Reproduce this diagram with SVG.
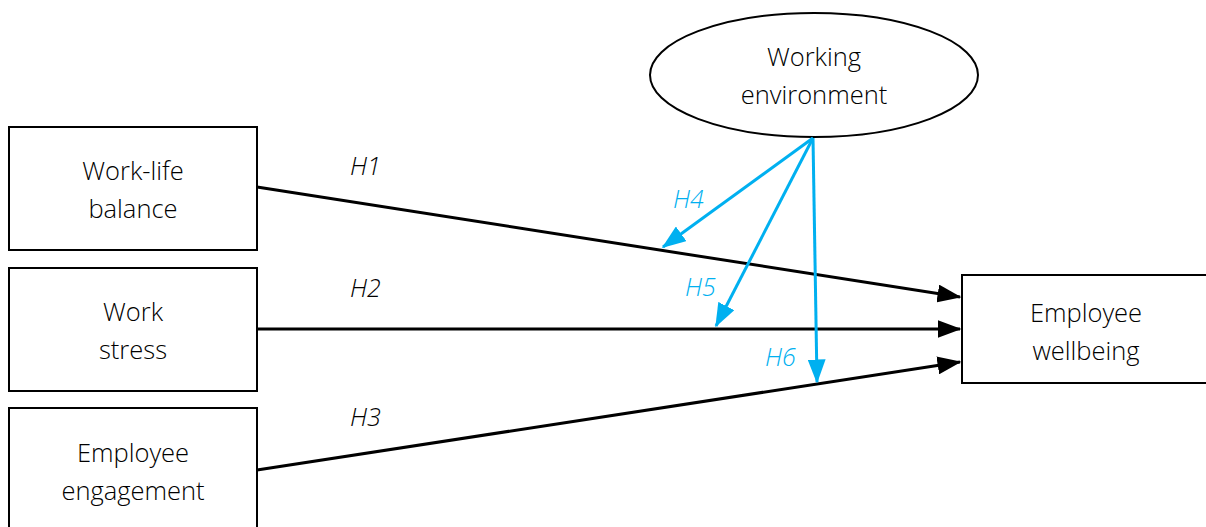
<svg xmlns="http://www.w3.org/2000/svg" width="1206" height="527" viewBox="0 0 1206 527">
<style>
.box{fill:#fff;stroke:#000;stroke-width:2}
.t{font-family:"Open Sans","Liberation Sans",sans-serif;font-weight:300;font-size:25.5px;fill:#000;text-anchor:middle}
.lbl{font-family:"Open Sans","Liberation Sans",sans-serif;font-weight:300;font-style:italic;font-size:25px}
.k{stroke:#000;stroke-width:3;fill:none}
.b{stroke:#00b0f0;stroke-width:3;fill:none}
</style>
<defs>
<marker id="ak" markerWidth="8" markerHeight="6" refX="7.5" refY="3" orient="auto" markerUnits="strokeWidth"><path d="M0,0L8,3L0,6Z" fill="#000"/></marker>
<marker id="ab" markerWidth="8" markerHeight="6" refX="7.5" refY="3" orient="auto" markerUnits="strokeWidth"><path d="M0,0L8,3L0,6Z" fill="#00b0f0"/></marker>
</defs>
<g id="n-wlb"><rect class="box" x="9" y="127" width="248" height="123"/><text class="t" x="133" y="180">Work-life</text><text class="t" x="133" y="218">balance</text></g>
<g id="n-ws"><rect class="box" x="9" y="268" width="248" height="123"/><text class="t" x="133" y="321">Work</text><text class="t" x="133" y="359">stress</text></g>
<g id="n-ee"><rect class="box" x="9" y="408" width="248" height="125"/><text class="t" x="133" y="462">Employee</text><text class="t" x="133" y="500">engagement</text></g>
<g id="n-ewb"><rect class="box" x="962" y="275" width="250" height="108"/><text class="t" x="1086" y="322">Employee</text><text class="t" x="1086" y="360">wellbeing</text></g>
<g id="n-env"><ellipse class="box" cx="814" cy="75" rx="164" ry="62"/><text class="t" x="814" y="66">Working</text><text class="t" x="814" y="104">environment</text></g>
<g id="connectors">
<line class="k" x1="257" y1="187" x2="960" y2="297" marker-end="url(#ak)"/>
<line class="k" x1="257" y1="329" x2="960" y2="329" marker-end="url(#ak)"/>
<line class="k" x1="257" y1="470" x2="960" y2="362" marker-end="url(#ak)"/>
<line class="b" x1="813" y1="138" x2="663" y2="247" marker-end="url(#ab)"/>
<line class="b" x1="813" y1="138" x2="716" y2="326" marker-end="url(#ab)"/>
<line class="b" x1="813" y1="138" x2="817" y2="382" marker-end="url(#ab)"/>
<text class="lbl" x="350" y="175" fill="#000">H1</text>
<text class="lbl" x="350" y="297" fill="#000">H2</text>
<text class="lbl" x="350" y="426" fill="#000">H3</text>
<text class="lbl" x="673" y="208" fill="#00b0f0">H4</text>
<text class="lbl" x="685" y="296" fill="#00b0f0">H5</text>
<text class="lbl" x="765" y="366" fill="#00b0f0">H6</text>
</g>
</svg>
